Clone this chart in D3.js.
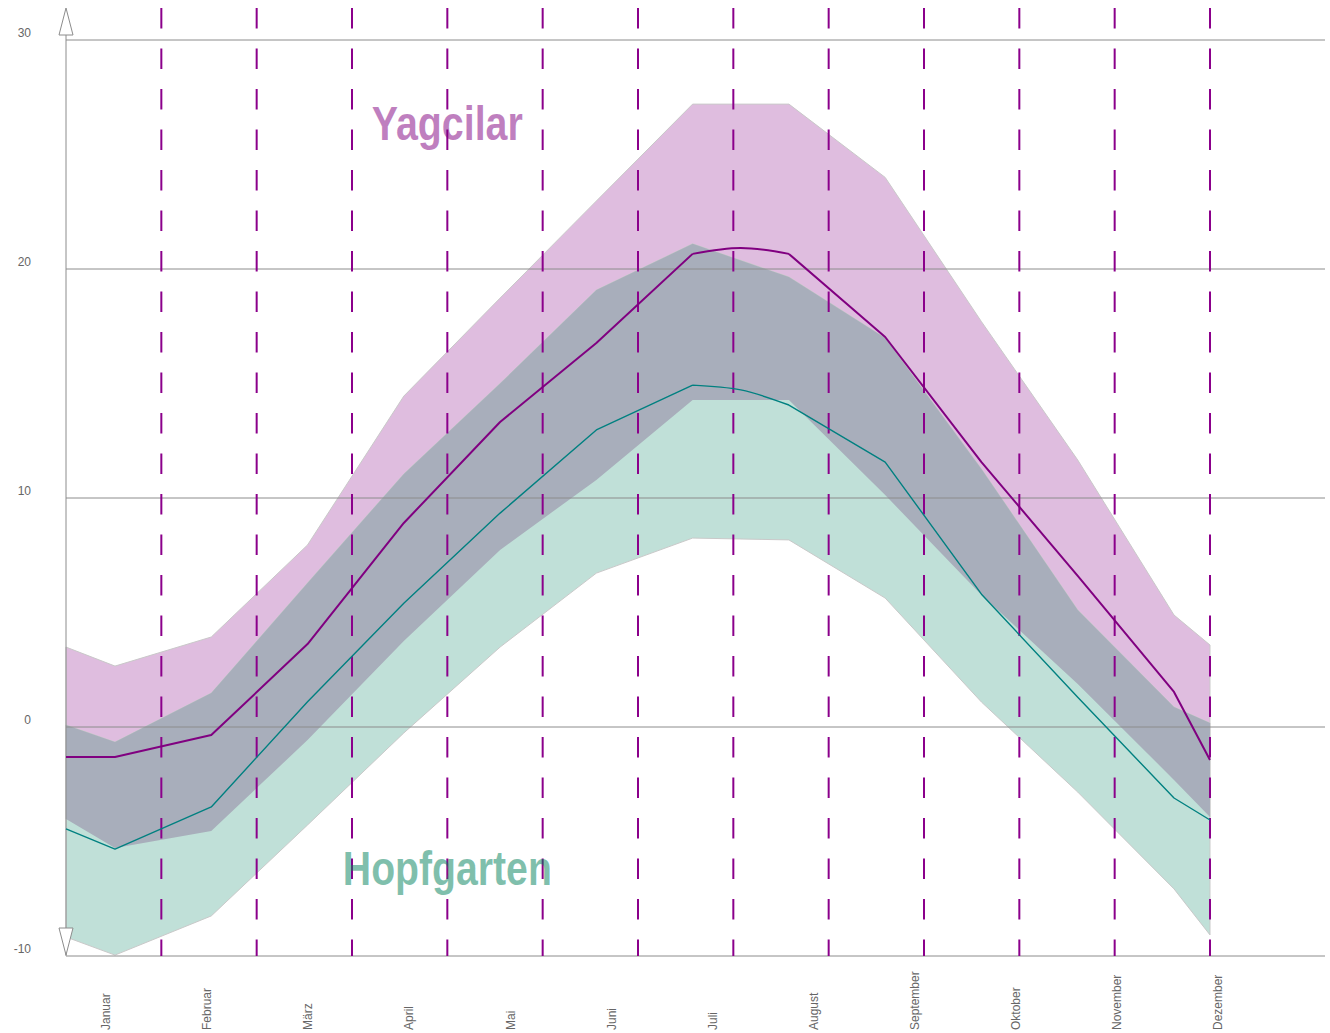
<!DOCTYPE html>
<html>
<head>
<meta charset="utf-8">
<script src="https://cdn.jsdelivr.net/npm/d3@7"></script>
<style>
  html, body { margin: 0; padding: 0; background: #fff; }
  svg { display: block; }
</style>
</head>
<body>
<svg id="chart" width="1330" height="1033"></svg>
<script>
// Monthly temperatures (°C), Yagcilar vs. Hopfgarten
const months = ["Januar", "Februar", "März", "April", "Mai", "Juni",
                "Juli", "August", "September", "Oktober", "November", "Dezember"];
const yTicks = [-10, 0, 10, 20, 30];

// Yagcilar: band of min/max and mean line; edge values at the year boundaries
const yagMax  = [2.66, 3.93, 7.95, 14.45, 18.73, 22.97, 27.2, 27.2, 24.0, 17.7, 11.66, 4.89];
const yagMaxEdge = [3.49, 3.58];
const yagMin  = [-5.28, -4.54, -0.57, 3.76, 7.73, 10.79, 14.28, 14.28, 10.13, 5.76, 1.88, -2.31];
const yagMinEdge = [-4.02, -3.93];
const yagMean = [-1.31, -0.35, 3.62, 8.91, 13.32, 16.77, 20.66, 20.66, 17.03, 11.57, 6.6, 1.53];
const yagMeanEdge = [-1.31, -1.44];
const yagMidsummer = 20.92;   // mean between July and August

// Hopfgarten
const hopMax  = [-0.66, 1.48, 6.29, 11.05, 15.0, 19.08, 21.1, 19.65, 16.99, 11.27, 5.11, 0.87];
const hopMaxEdge = [0.09, 0.17];
const hopMin  = [-9.96, -8.25, -4.28, -0.26, 3.49, 6.72, 8.25, 8.17, 5.63, 1.09, -2.84, -7.07];
const hopMinEdge = [-9.17, -9.08];
const hopMean = [-5.33, -3.49, 1.1, 5.4, 9.34, 12.97, 14.93, 14.06, 11.57, 5.8, 1.3, -3.1];
const hopMeanEdge = [-4.45, -4.06];
const hopMidsummer = 14.72;

const svg = d3.select("#chart");

const xYear  = d3.scaleLinear().domain([0, 12]).range([66, 1210]);
const xMonth = d3.scalePoint().domain(months).range([115, 1174]);
const xLabel = d3.scalePoint().domain(months).range([106, 1218]);
const y = d3.scaleLinear().domain([-10, 30]).range([956, 40]);

const GRID_RIGHT = 1325;

function series(vals, edge) {
  return [[xYear(0), edge[0]]]
    .concat(vals.map((v, i) => [xMonth(months[i]), v]))
    .concat([[xYear(12), edge[1]]]);
}
function band(minV, minE, maxV, maxE) {
  const lo = series(minV, minE), hi = series(maxV, maxE);
  return lo.map((p, i) => ({ x: p[0], lo: p[1], hi: hi[i][1] }));
}

const area = d3.area().x(d => d.x).y0(d => y(d.lo)).y1(d => y(d.hi));

const yagBand = band(yagMin, yagMinEdge, yagMax, yagMaxEdge);
const hopBand = band(hopMin, hopMinEdge, hopMax, hopMaxEdge);

// bands
svg.append("path").attr("d", area(yagBand))
  .attr("fill", "#dfbddf").attr("stroke", "#c9c9c9").attr("stroke-width", 1);
svg.append("path").attr("d", area(hopBand))
  .attr("fill", "#c0e0d8").attr("stroke", "#c9c9c9").attr("stroke-width", 1);

// overlap of both bands
svg.append("clipPath").attr("id", "yagClip")
  .append("path").attr("d", area(yagBand));
svg.append("path").attr("d", area(hopBand))
  .attr("clip-path", "url(#yagClip)")
  .attr("fill", "#a8aebb");

// horizontal grid
svg.append("g").selectAll("line").data(yTicks).join("line")
  .attr("x1", xYear(0)).attr("x2", GRID_RIGHT)
  .attr("y1", d => y(d)).attr("y2", d => y(d))
  .attr("stroke", "#8c8c8c").attr("stroke-width", 1);

// y labels
svg.append("g").selectAll("text").data(yTicks).join("text")
  .attr("x", 31).attr("y", d => y(d) - 3.5)
  .attr("text-anchor", "end")
  .attr("font-family", "'Liberation Sans', Arial, sans-serif")
  .attr("font-size", 12).attr("fill", "#666")
  .text(d => d);

// y axis with open arrow heads
svg.append("line")
  .attr("x1", xYear(0)).attr("x2", xYear(0))
  .attr("y1", y(30) - 5).attr("y2", y(-10))
  .attr("stroke", "#8c8c8c").attr("stroke-width", 1);
const ax = xYear(0);
svg.append("path")
  .attr("d", `M${ax},${y(30) - 32}L${ax + 7},${y(30) - 5}L${ax - 7},${y(30) - 5}Z`)
  .attr("fill", "#fff").attr("stroke", "#8c8c8c").attr("stroke-width", 1);
svg.append("path")
  .attr("d", `M${ax},${y(-10) - 1}L${ax + 7},${y(-10) - 28}L${ax - 7},${y(-10) - 28}Z`)
  .attr("fill", "#fff").attr("stroke", "#8c8c8c").attr("stroke-width", 1);

// month boundaries
svg.append("g").selectAll("line").data(d3.range(1, 13)).join("line")
  .attr("x1", d => xYear(d)).attr("x2", d => xYear(d))
  .attr("y1", 8).attr("y2", y(-10))
  .attr("stroke", "#8b008b").attr("stroke-width", 2)
  .attr("stroke-dasharray", "20.5 20");

// mean lines: straight between months, rounded over the summer peak
function meanPath(vals, edge, mid) {
  const pts = series(vals, edge);
  const j = months.indexOf("Juli") + 1, a = months.indexOf("August") + 1;
  const lin = d3.line().x(p => p[0]).y(p => y(p[1]));
  const smooth = d3.line().x(p => p[0]).y(p => y(p[1])).curve(d3.curveMonotoneX);
  const midX = (pts[j][0] + pts[a][0]) / 2;
  return lin(pts.slice(0, j + 1)) +
         smooth([pts[j], [midX, mid], pts[a]]) +
         lin(pts.slice(a));
}
svg.append("path").attr("d", meanPath(hopMean, hopMeanEdge, hopMidsummer))
  .attr("fill", "none").attr("stroke", "#008080").attr("stroke-width", 1.4)
  .attr("stroke-linejoin", "round");
svg.append("path").attr("d", meanPath(yagMean, yagMeanEdge, yagMidsummer))
  .attr("fill", "none").attr("stroke", "#800080").attr("stroke-width", 2)
  .attr("stroke-linejoin", "round");

// month labels
svg.append("g").selectAll("text").data(months).join("text")
  .attr("transform", d => `translate(${xLabel(d)},1030) rotate(-90)`)
  .attr("dy", "0.35em")
  .attr("text-anchor", "start")
  .attr("font-family", "'Liberation Sans', Arial, sans-serif")
  .attr("font-size", 12).attr("fill", "#666")
  .text(d => d);

// station names, set in a condensed bold face
const titleFont = "'Liberation Sans Narrow', 'Arial Narrow', 'Liberation Sans', sans-serif";
function stationName(label, yPos, width, colour) {
  svg.append("text")
    .attr("x", xYear(4)).attr("y", yPos)
    .attr("text-anchor", "middle")
    .attr("font-family", titleFont).attr("font-weight", "bold").attr("font-size", 48)
    .attr("textLength", width).attr("lengthAdjust", "spacingAndGlyphs")
    .attr("fill", colour).attr("fill-opacity", 0.5)
    .text(label);
}
stationName("Yagcilar", 140, 151, "#800080");
stationName("Hopfgarten", 885, 209, "#00805a");
</script>
</body>
</html>
